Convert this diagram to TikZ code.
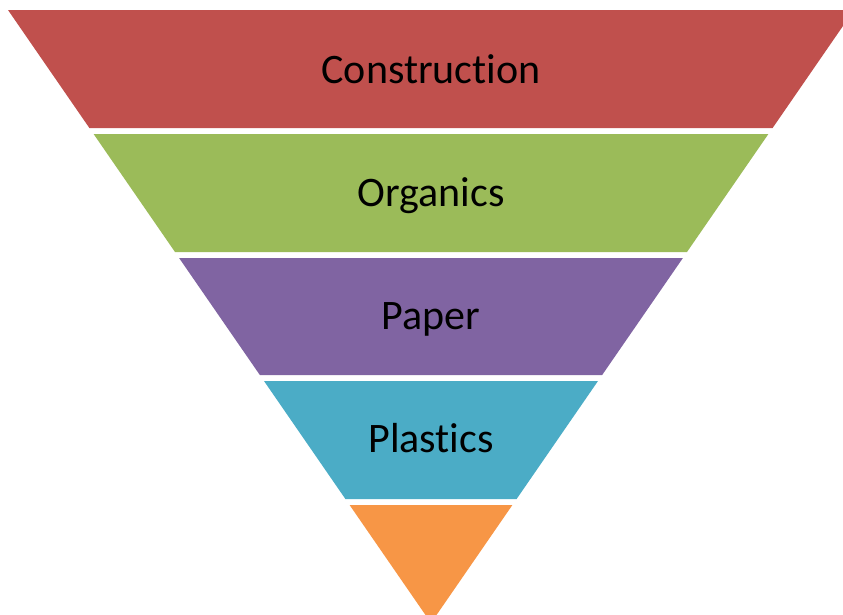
\documentclass[tikz,border=0pt]{standalone}
\usepackage{fontspec}
\setmainfont{Carlito}[Ligatures={NoCommon,NoContextual}]
\definecolor{cRed}{HTML}{C0504D}
\definecolor{cGreen}{HTML}{9BBB59}
\definecolor{cPurple}{HTML}{8064A2}
\definecolor{cTeal}{HTML}{4BACC6}
\definecolor{cOrange}{HTML}{F79646}
\begin{document}
\begin{tikzpicture}[x=1pt,y=-1pt,
  band/.style={draw=none},
  lbl/.style={anchor=base,inner sep=0pt,text=black,font=\fontsize{42}{50}\selectfont}]
\useasboundingbox (0,0) rectangle (843,614);
\clip (0,0) rectangle (843,614);
\fill[band,cRed] (8,10) -- (854,10) -- (772.6,128) -- (89.4,128) -- cycle;
\fill[band,cGreen] (93.6,134) -- (768.4,134) -- (687,252) -- (175,252) -- cycle;
\fill[band,cPurple] (179.1,258) -- (682.9,258) -- (602.15,375) -- (259.85,375) -- cycle;
\fill[band,cTeal] (264,381) -- (598,381) -- (516.6,499) -- (345.4,499) -- cycle;
\fill[band,cOrange] (349.6,505) -- (512.4,505) -- (431,623) -- cycle;
\node[lbl] (t1) at (431,83) {Construction};
\node[lbl] (t2) at (431,206) {Organics};
\node[lbl] (t3) at (431,329.5) {Paper};
\node[lbl] (t4) at (431,452) {Plastics};
\end{tikzpicture}
\end{document}
